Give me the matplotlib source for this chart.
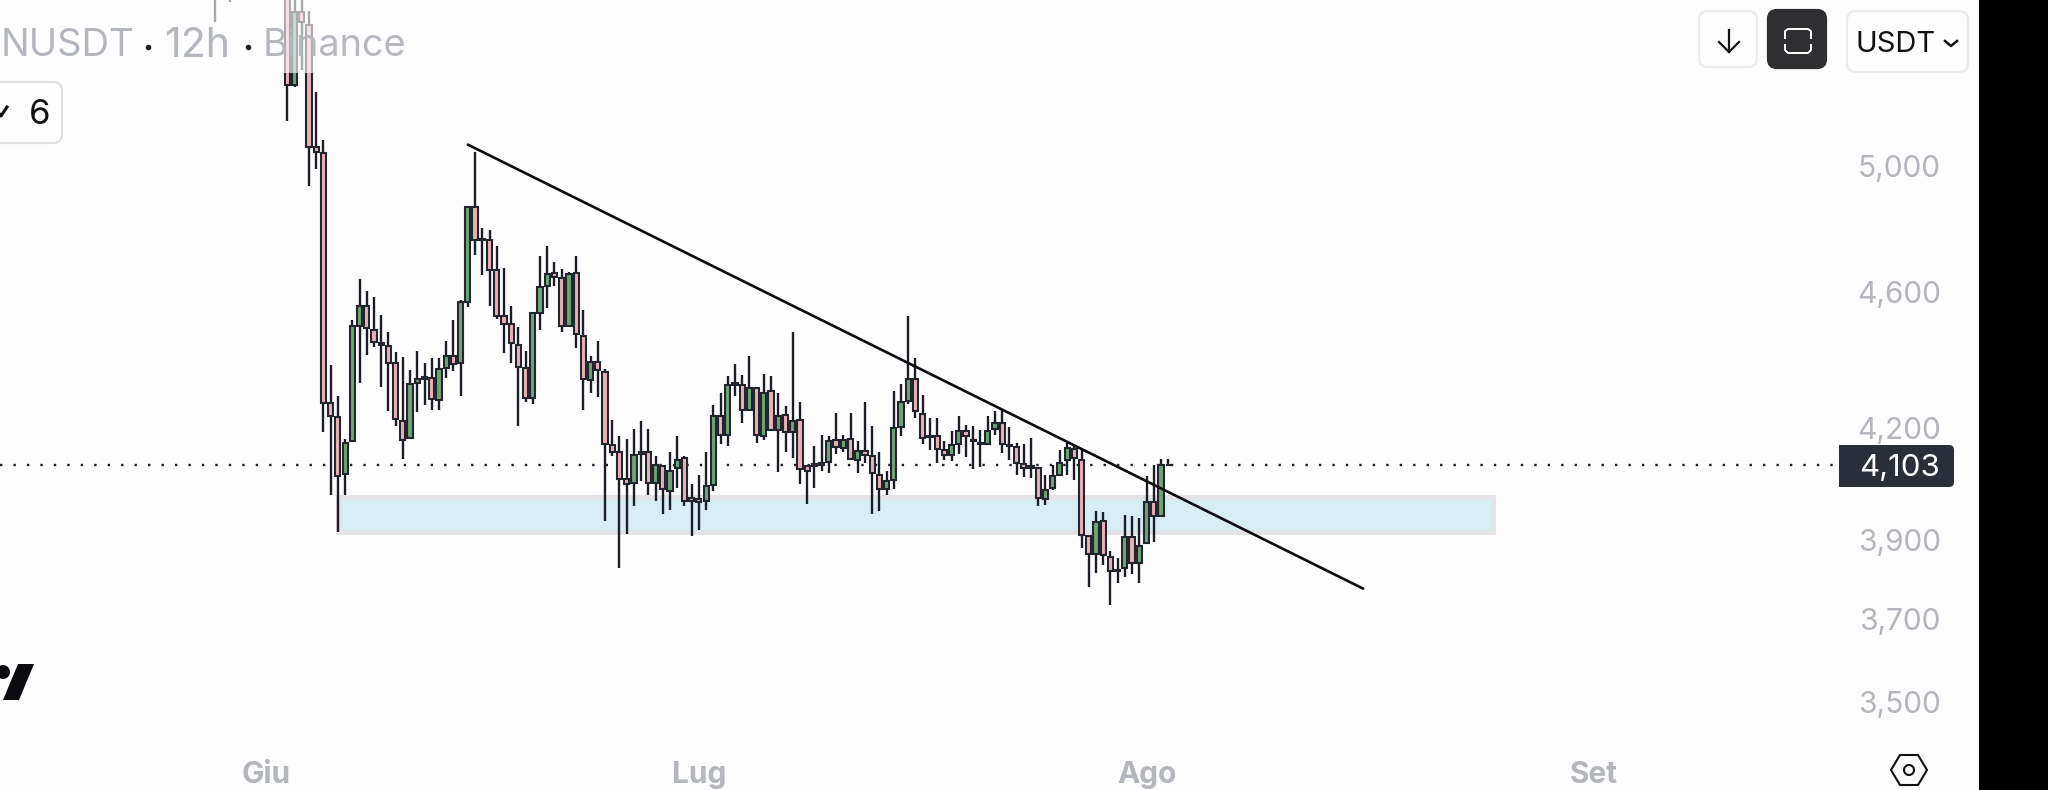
import matplotlib
matplotlib.use("Agg")
import matplotlib.pyplot as plt
from matplotlib.patches import Rectangle, FancyBboxPatch, Polygon, Circle
from matplotlib.ticker import NullLocator
from matplotlib.transforms import ScaledTranslation

plt.rcParams['font.family'] = ['Inter', 'Roboto', 'DejaVu Sans']

# candle number, counted in 12h steps from 1 June
idx = [-7, -5] + list(range(3, 126))

opens = [6100, 6100, 5750, 5286, 5549, 5498, 5072, 5052, 4277, 4237, 4080, 4169, 4503, 4563, 4491, 4451, 4441, 4392,
         4225, 4179, 4334, 4351, 4349, 4284, 4378, 4412, 4392, 4573, 4873, 4771, 4768, 4671, 4531, 4508, 4446, 4378,
         4291, 4541, 4622, 4664, 4648, 4503, 4662, 4473, 4344, 4395, 4366, 4160, 4141, 4066, 4055, 4141, 4140, 4054,
         4101, 4033, 4096, 4122, 4014, 4013, 4006, 4051, 4239, 4186, 4334, 4329, 4258, 4320, 4183, 4310, 4202, 4244,
         4195, 4230, 4101, 4107, 4110, 4112, 4172, 4151, 4176, 4117, 4143, 4128, 4078, 4040, 4062, 4209, 4283, 4346,
         4247, 4185, 4185, 4146, 4131, 4162, 4199, 4174, 4165, 4161, 4204, 4219, 4160, 4153, 4107, 4101, 4096, 4012,
         4042, 4078, 4119, 4149, 4117, 3914, 3869, 3954, 3860, 3828, 3832, 3912, 3844, 3896, 4004, 3966, 4103]
highs = [6200, 6200, 5900, 5800, 5700, 5553, 5261, 5096, 4387, 4296, 4176, 4521, 4645, 4609, 4588, 4536, 4483, 4423,
         4410, 4373, 4426, 4392, 4407, 4407, 4456, 4519, 4581, 4873, 5053, 4805, 4800, 4749, 4679, 4563, 4499, 4426,
         4541, 4715, 4749, 4698, 4676, 4666, 4715, 4551, 4412, 4458, 4375, 4230, 4183, 4177, 4204, 4225, 4204, 4130,
         4105, 4139, 4185, 4130, 4053, 4078, 4139, 4272, 4304, 4353, 4389, 4358, 4412, 4320, 4361, 4354, 4305, 4269,
         4483, 4281, 4103, 4155, 4188, 4185, 4249, 4188, 4249, 4169, 4279, 4211, 4139, 4087, 4312, 4330, 4533, 4407,
         4300, 4233, 4233, 4169, 4199, 4241, 4216, 4213, 4200, 4239, 4253, 4258, 4209, 4165, 4163, 4178, 4098, 4078,
         4105, 4146, 4165, 4160, 4146, 3914, 3979, 3978, 3875, 3858, 3969, 3966, 3962, 4073, 4105, 4120, 4120]
lows = [5512, 5586, 5158, 5279, 5339, 4942, 4996, 4196, 4024, 3925, 4024, 4166, 4334, 4415, 4439, 4323, 4253, 4211,
        4121, 4178, 4251, 4272, 4256, 4258, 4349, 4370, 4298, 4559, 4720, 4656, 4561, 4523, 4421, 4392, 4211, 4281,
        4275, 4491, 4556, 4622, 4483, 4503, 4436, 4256, 4305, 4293, 3953, 4130, 3831, 3921, 3994, 4060, 4024, 4007,
        3973, 3984, 4042, 3993, 3914, 3930, 3982, 4033, 4163, 4157, 4296, 4221, 4258, 4165, 4174, 4202, 4085, 4139,
        4123, 4053, 3999, 4042, 4087, 4081, 4134, 4141, 4119, 4083, 4110, 3972, 3979, 4023, 4040, 4183, 4275, 4233,
        4163, 4144, 4110, 4117, 4114, 4135, 4125, 4092, 4098, 4159, 4186, 4137, 4119, 4076, 4072, 4069, 3993, 3995,
        4037, 4076, 4076, 4062, 3883, 3783, 3819, 3841, 3738, 3794, 3810, 3818, 3794, 3896, 3898, 3966, 4103]
closes = [6000, 6000, 5283, 5549, 5509, 5072, 5055, 4278, 4241, 4075, 4165, 4503, 4563, 4495, 4453, 4444, 4392, 4232,
          4174, 4331, 4346, 4347, 4288, 4375, 4412, 4390, 4573, 4873, 4768, 4768, 4672, 4531, 4509, 4451, 4380, 4290,
          4541, 4619, 4659, 4651, 4501, 4659, 4479, 4347, 4395, 4371, 4163, 4141, 4067, 4052, 4131, 4135, 4054, 4105,
          4039, 4087, 4119, 4007, 4007, 4003, 4048, 4239, 4188, 4329, 4327, 4258, 4320, 4188, 4305, 4202, 4239, 4195,
          4225, 4094, 4089, 4102, 4105, 4171, 4153, 4174, 4121, 4143, 4132, 4083, 4040, 4060, 4205, 4281, 4347, 4253,
          4179, 4180, 4149, 4131, 4160, 4199, 4183, 4170, 4161, 4199, 4219, 4161, 4156, 4110, 4096, 4097, 4014, 4037,
          4073, 4110, 4151, 4123, 3916, 3869, 3952, 3866, 3824, 3824, 3911, 3844, 3889, 4004, 3966, 4103, 4103]

month_pos = [0, 60, 122, 184]
month_labels = ['Giu', 'Lug', 'Ago', 'Set']
price_ticks = [3500, 3700, 3900, 4200, 4600, 5000]
last_price = 4103
zone_low, zone_high = 3924, 4018
zone_start, zone_end = 10, 170
trend_x = [28, 152]
trend_y = [5079, 3780]

BG = '#fefdfd'
DARK = '#1b1e27'
PINK = '#e8b3b6'
GREEN = '#6da577'
GREY = '#b4b6bd'

fig = plt.figure(figsize=(20.48, 7.9), dpi=100, facecolor='black')
ax = fig.add_axes([0, 0, 1979 / 2048, 1], facecolor=BG)
for s in ax.spines.values():
    s.set_visible(False)

ax.set_yscale('log')
ax.set_xlim(-36.8, 237.3)
ax.set_ylim(3306, 5592)

# demand zone
ax.add_patch(Rectangle((zone_start, zone_low), zone_end - zone_start, zone_high - zone_low,
                       facecolor='#d6eef2', edgecolor='#e4e3e5', lw=3.6, zorder=1))

# last price line, stops at the price label
ax.plot([-36.8, 218], [last_price, last_price], color='#1b1e27', lw=1.7, ls=(0, (1, 4.7)), zorder=1.5)

# candles
ax.vlines(idx, lows, highs, color=DARK, lw=1.7, zorder=2)
for i, o, c in zip(idx, opens, closes):
    ax.bar(i, abs(c - o), bottom=min(o, c), width=0.72, facecolor=GREEN if c > o else PINK,
           edgecolor='#23262f', lw=1.5, zorder=3)

# trend line
ax.plot(trend_x, trend_y, color='#0c0c10', lw=1.9, zorder=4, solid_capstyle='round')

# axes labels
ax.yaxis.tick_right()
ax.set_yticks(price_ticks)
ax.set_yticklabels([f'{p:,}' for p in price_ticks], fontsize=21.5, color=GREY, ha='right')
ax.yaxis.set_minor_locator(NullLocator())
ax.tick_params(axis='y', length=0, pad=-27.5)
for lbl in ax.get_yticklabels():
    lbl.set_transform(lbl.get_transform() + ScaledTranslation(0, 2 / 100, fig.dpi_scale_trans))
ax.set_xticks(month_pos)
ax.set_xticklabels(month_labels, fontsize=21.5, color=GREY, fontweight='bold')
ax.tick_params(axis='x', length=0, pad=-21)

# interface drawn on top, in picture pixels
ui = fig.add_axes([0, 0, 1, 1], facecolor='none')
ui.set_xlim(0, 2048)
ui.set_ylim(790, 0)
ui.axis('off')


def button(x0, y0, x1, y1, face='#fefdfd', edge='#ebebee', r=9, lw=1.6):
    ui.add_patch(FancyBboxPatch((x0 + r, y0 + r), x1 - x0 - 2 * r, y1 - y0 - 2 * r,
                                boxstyle=f'round,pad={r},rounding_size={r}',
                                facecolor=face, edgecolor=edge, lw=lw))


# fade behind the title
ui.add_patch(Rectangle((0, 0), 440, 73, facecolor='white', alpha=0.62, lw=0))
ui.text(1, 46, 'NUSDT', fontsize=27.5, color=GREY, va='center', ha='left')
ui.text(164, 46, '12h', fontsize=29.5, color=GREY, va='center', ha='left')
ui.text(263, 46, 'Binance', fontsize=27.3, color=GREY, va='center', ha='left', alpha=0.95)
ui.plot([148, 248], [47, 47], 'o', color='#1b1e27', ms=4, mew=0)

# indicators button
button(-20, 82, 62, 143, edge='#dedfe3')
ui.plot([-2, 1, 7], [112, 116, 107], color='#111111', lw=2.2)
ui.text(40, 115, '6', fontsize=25, color='#111111', va='center', ha='center')

# logo
ui.add_patch(Polygon([(18, 664), (34, 664), (19, 700), (3, 700)], closed=True, facecolor='#0c0c10', lw=0))
ui.add_patch(Circle((3, 672), 7, facecolor='#0c0c10', lw=0))

# top right buttons
button(1699, 11, 1757, 67)
ui.plot([1729, 1729], [30, 52], color='#111111', lw=1.6)
ui.plot([1719, 1729, 1739], [42, 52, 42], color='#111111', lw=1.6)

button(1768, 10, 1826, 68, face='#2f2f31', edge='#2f2f31')
ui.plot([1785, 1785, 1788, 1808, 1811, 1811], [38, 31, 29, 29, 31, 38], color='white', lw=1.4)
ui.plot([1785, 1785, 1788, 1808, 1811, 1811], [45, 50, 53, 53, 50, 45], color='white', lw=1.4)

button(1847, 11, 1968, 72)
ui.text(1856, 45, 'USDT', fontsize=21, color='#111111', va='center', ha='left')
ui.plot([1945, 1951, 1957], [41, 46, 41], color='#111111', lw=1.8)

# last price label
ui.add_patch(Rectangle((1839, 445), 100, 42, facecolor='#2a2e39', lw=0))
button(1920, 445, 1954, 487, face='#2a2e39', edge='none', r=5, lw=0)
ui.text(1940, 468, f'{last_price:,}', fontsize=22.5, color='white', va='center', ha='right')

# settings icon
ui.add_patch(Polygon([(1891, 770), (1900, 755), (1918, 755), (1927, 770), (1918, 785), (1900, 785)],
                     closed=True, facecolor='none', edgecolor='#111111', lw=1.5))
ui.add_patch(Circle((1909, 770), 5, facecolor='none', edgecolor='#111111', lw=1.5))

fig.savefig('out.png', dpi=100, facecolor=fig.get_facecolor())
